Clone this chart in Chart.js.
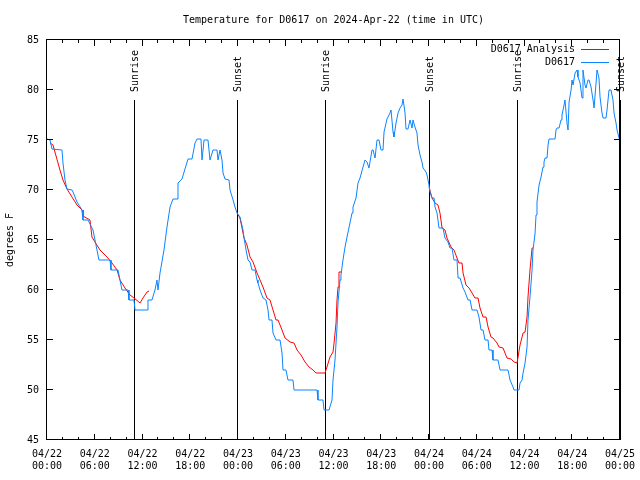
<!DOCTYPE html>
<html>
<head>
<meta charset="utf-8">
<title>Temperature for D0617</title>
<script src="https://cdn.jsdelivr.net/npm/chart.js@4/dist/chart.umd.min.js"></script>
<style>
  html, body { margin: 0; padding: 0; background: #fff; }
  #wrap { width: 640px; height: 480px; }
</style>
</head>
<body>
<div id="wrap"><canvas id="temp-chart" width="640" height="480"></canvas></div>
<script>
// Hours since 2024-04-22 00:00 UTC
const obsHours = [
  0, 0.38, 0.63, 1.88, 2.01, 2.26, 2.51, 3.14, 3.27, 3.77, 4.40, 4.52, 5.15, 5.78, 6.03, 6.53,
  7.92, 8.04, 8.92, 9.42, 10.18, 10.30, 10.93, 11.06, 12.57, 12.69, 13.19, 13.57, 13.82, 13.95,
  14.20, 14.70, 15.08, 15.46, 15.83, 16.34, 16.46, 16.96, 17.34, 17.72, 18.22, 18.60, 18.85,
  19.35, 19.48, 19.60, 19.73, 20.23, 20.48, 20.86, 21.36, 21.49, 21.74, 21.99, 22.12, 22.37,
  22.87, 23.00, 23.38, 23.62, 23.88, 24.25, 24.63, 24.76, 25.01, 25.26, 25.51, 25.76, 26.14,
  26.39, 26.51, 26.77, 27.14, 27.52, 27.77, 27.90, 28.27, 28.40, 28.78, 29.28, 29.53, 29.66,
  30.03, 30.28, 30.91, 31.04, 33.93, 34.05, 34.68, 34.81, 35.44, 35.81, 35.94, 36.19, 36.44,
  36.57, 36.82, 36.94, 37.19, 37.45, 37.70, 38.07, 38.33, 38.45, 38.83, 39.08, 39.33, 39.71,
  39.96, 40.21, 40.46, 40.84, 40.97, 41.22, 41.47, 41.72, 41.97, 42.22, 42.35, 42.72, 43.10,
  43.23, 43.48, 43.60, 43.86, 44.11, 44.36, 44.61, 44.74, 44.99, 45.11, 45.36, 45.62, 45.87,
  45.99, 46.24, 46.49, 46.62, 46.87, 47.12, 47.25, 47.62, 47.75, 48.00, 48.13, 48.38, 48.63,
  48.76, 49.01, 49.26, 49.76, 50.01, 50.39, 50.64, 50.89, 51.14, 51.52, 51.65, 51.90, 52.28,
  52.53, 52.90, 53.16, 53.41, 54.03, 54.28, 54.54, 54.79, 55.04, 55.42, 55.54, 55.92, 56.04,
  56.67, 56.93, 57.93, 58.06, 58.18, 58.56, 58.69, 59.31, 59.44, 59.69, 59.82, 60.07, 60.32,
  60.44, 60.69, 60.95, 61.07, 61.32, 61.45, 61.57, 61.83, 62.08, 62.33, 62.45, 62.58, 62.83,
  62.96, 63.08, 63.84, 63.96, 64.09, 64.34, 64.59, 64.71, 64.84, 64.97, 65.09, 65.34, 65.47,
  65.60, 65.85, 65.97, 66.10, 66.35, 66.60, 66.72, 66.98, 67.23, 67.35, 67.60, 67.73, 67.98,
  68.11, 68.36, 68.61, 68.74, 68.99, 69.11, 69.36, 69.49, 69.74, 69.87, 70.24, 70.37, 70.62,
  70.87, 71.12, 71.25, 71.50, 71.63, 71.88, 72.00
];
const obsTemps = [
  75.1, 75, 74.1, 74, 72.7, 71, 70.1, 70, 69.8, 68.8, 68, 67, 67, 66, 65, 63,
  63, 62, 62, 60, 60, 59, 59, 58, 58, 59, 59, 60, 61, 60,
  61.7, 64, 66.3, 68.3, 69.1, 69.1, 70.7, 71.1, 72.1, 73.1, 73.1, 74.7, 75.1,
  75.1, 73, 73, 75, 75, 73, 74, 74, 73, 74, 73, 71.7, 71.1,
  71, 70, 69, 68.3, 67.7, 67.3, 66, 65.2, 64, 63, 62.8, 62, 62,
  61, 60.7, 60, 59.2, 59, 58, 57, 57, 55.7, 55, 55, 53.7, 52,
  52, 51, 51, 50, 50, 49, 49, 48, 48, 49, 51, 53, 56.3,
  58.8, 61, 61.5, 63, 64.3, 65.3, 66.7, 67.7, 68.3, 69.2, 70.7, 71.2, 72.3,
  73, 72.8, 72.2, 74, 74, 73.2, 75, 75, 74, 74, 75.8, 77.1, 77.7,
  78, 75.8, 75.3, 76.7, 77.7, 78.2, 78.5, 79.1, 77.7, 76.1, 76.1, 77, 76.2,
  77, 76.3, 75.7, 74.5, 73.5, 72.8, 72.2, 71.8, 71.5, 70.5, 69.8, 69.2, 69.2,
  68.3, 67.7, 66.2, 66.2, 65.2, 64.8, 64.2, 64.2, 63, 63, 61.2, 61.2, 60.2,
  59.8, 59, 59, 58, 58, 57.3, 56, 56, 55, 55, 54, 54, 53,
  53, 52, 52, 51.5, 51, 50.3, 50, 50, 50.7, 51, 51.7, 52.7, 54.3,
  57, 59.3, 62, 64, 65.6, 67.5, 68.8, 70.5, 71.3, 72.3, 72.8, 73.2, 73.2,
  74.5, 75.1, 75.1, 76, 76.2, 76.2, 77, 77.5, 78, 78.5, 79, 76.7, 76,
  78.8, 80, 81, 80.5, 81.7, 82, 81.3, 80.7, 79.2, 82, 80.5, 80.2, 81,
  81, 80.3, 79, 78.2, 80.7, 82, 81.2, 79.3, 77.7, 77.2, 77.2, 78, 80,
  80, 79, 77.7, 76.7, 76, 75.2, 75
];
// Analysis series, null = gap between the night runs
const anaHours = [
  0.38, 0.75, 1.63, 2.01, 2.51, 3.14, 3.77, 4.40, 4.52, 5.40, 5.65, 6.03, 6.66, 7.54, 8.17,
  8.80, 9.17, 9.80, 10.43, 10.93, 11.69, 12.06, 12.57, 12.82,
  18.00,
  23.88, 24.25, 24.76, 25.13, 25.51, 25.89, 26.39, 26.77, 27.14, 27.64, 28.02, 28.40, 28.78,
  29.03, 29.53, 29.91, 30.54, 31.04, 31.42, 31.92, 32.42, 32.92, 33.43, 33.80, 34.93, 35.18,
  35.56, 35.94, 36.07, 36.32, 36.44, 36.57, 36.69, 37.07,
  42.00,
  48.00, 48.38, 48.76, 49.13, 49.38, 49.64, 50.01, 50.26, 50.77, 51.14, 51.52, 51.77, 52.15,
  52.28, 52.65, 53.03, 53.41, 53.78, 54.16, 54.41, 54.79, 55.17, 55.42, 55.79, 56.04, 56.55,
  56.80, 57.30, 57.55, 57.80, 58.31, 58.69, 59.06, 59.19, 59.44, 59.82, 60.07, 60.32, 60.44,
  60.69, 60.95, 61.07
];
const anaTemps = [
  74.7, 74.5, 72, 71, 70.1, 69.3, 68.5, 68, 67.4, 67, 65.3, 64.8, 64, 63.3, 62.7,
  62, 61, 60.2, 59.5, 59.2, 58.7, 59.2, 59.8, 59.9,
  null,
  67.7, 67.2, 65.2, 64.5, 63.3, 62.8, 61.7, 61, 60.3, 59.2, 59, 58, 57,
  57, 56, 55.2, 54.8, 54.7, 54, 53.5, 52.8, 52.3, 52, 51.7, 51.7, 52.3,
  53.3, 53.8, 54.7, 56.7, 59, 60.3, 61.8, 61.8,
  null,
  70.3, 69.2, 68.7, 68.5, 67.7, 66.2, 66, 65.2, 64.3, 64, 63.2, 62.7, 62.7,
  61.7, 60.5, 60.2, 59.7, 59.2, 59.2, 58.2, 57.3, 57.3, 56.3, 55.3, 55.2, 54.7,
  54.3, 54.2, 53.7, 53.2, 53.1, 52.8, 52.7, 53.3, 54.5, 55.7, 55.8, 57.3, 59.3,
  62, 64.2, 64.2
];
const sunriseHours = [10.97, 34.97, 59.06];
const sunsetHours = [23.84, 48.02, 71.98];
const dayLabels = ['04/22', '04/23', '04/24', '04/25'];
const timeLabels = ['00:00', '06:00', '12:00', '18:00'];
const yMin = 45, yMax = 85, yStep = 5;

const FONT = "'DejaVu Sans Mono', 'Liberation Mono', monospace";
const toPoints = (xs, ys) => xs.map((h, i) => ({ x: h, y: ys[i] }));

// Sun markers under the data
const sunMarks = {
  id: 'sunMarks',
  beforeDatasetsDraw(chart) {
    const { ctx, chartArea: a, scales: { x } } = chart;
    const marks = [
      ...sunriseHours.map(h => [h, 'Sunrise']),
      ...sunsetHours.map(h => [h, 'Sunset']),
    ];
    ctx.save();
    ctx.strokeStyle = '#000';
    ctx.fillStyle = '#000';
    ctx.lineWidth = 1;
    ctx.font = '10px ' + FONT;
    ctx.textAlign = 'left';
    ctx.textBaseline = 'middle';
    marks.forEach(([h, label]) => {
      const px = Math.round(x.getPixelForValue(h)) + 0.5;
      ctx.beginPath();
      ctx.moveTo(px, a.top + 60);
      ctx.lineTo(px, a.bottom);
      ctx.stroke();
      ctx.save();
      ctx.translate(px + 1, a.top + 52);
      ctx.rotate(-Math.PI / 2);
      ctx.fillText(label, 0, 0);
      ctx.restore();
    });
    ctx.restore();
  },
};

// gnuplot-style frame, inward ticks, title and key
const decor = {
  id: 'decor',
  afterDraw(chart) {
    const { ctx, chartArea: a, scales: { x, y } } = chart;
    ctx.save();
    ctx.strokeStyle = '#000';
    ctx.lineWidth = 1;
    ctx.strokeRect(a.left - 0.5, a.top - 0.5, a.right - a.left, a.bottom - a.top);

    ctx.beginPath();
    for (let h = 0; h <= 72; h += 2) {
      const px = Math.round(x.getPixelForValue(h)) - 0.5;
      const len = h % 6 === 0 ? 6 : 3;
      ctx.moveTo(px, a.bottom); ctx.lineTo(px, a.bottom - len);
      ctx.moveTo(px, a.top); ctx.lineTo(px, a.top + len);
    }
    for (let v = yMin; v <= yMax; v += yStep) {
      const py = Math.round(y.getPixelForValue(v)) - 0.5;
      ctx.moveTo(a.left, py); ctx.lineTo(a.left + 6, py);
      ctx.moveTo(a.right, py); ctx.lineTo(a.right - 6, py);
    }
    ctx.stroke();

    ctx.fillStyle = '#000';
    ctx.font = '10px ' + FONT;
    ctx.textAlign = 'center';
    ctx.textBaseline = 'middle';
    ctx.fillText('Temperature for D0617 on 2024-Apr-22 (time in UTC)', (a.left + a.right) / 2, 20);

    // key, top right
    ctx.textAlign = 'right';
    chart.data.datasets.forEach((ds, i) => {
      const ly = a.top + 9.5 + i * 13;
      ctx.fillText(ds.label, a.right - 45, ly);
      ctx.strokeStyle = ds.borderColor;
      ctx.beginPath();
      ctx.moveTo(a.right - 39, ly);
      ctx.lineTo(a.right - 11, ly);
      ctx.stroke();
    });
    ctx.restore();
  },
};

new Chart(document.getElementById('temp-chart'), {
  type: 'line',
  data: {
    datasets: [
      { label: 'D0617 Analysis', data: toPoints(anaHours, anaTemps), borderColor: '#ff0000', borderWidth: 1, pointRadius: 0, spanGaps: false, order: 1 },
      { label: 'D0617', data: toPoints(obsHours, obsTemps), borderColor: '#0a84ff', borderWidth: 1, pointRadius: 0, order: 0 },
    ]
  },
  options: {
    responsive: false,
    animation: false,
    parsing: false,
    layout: { padding: { top: 40, right: 20, bottom: 0, left: 0 } },
    plugins: { legend: { display: false }, title: { display: false }, tooltip: { enabled: false } },
    scales: {
      x: {
        type: 'linear', min: 0, max: 72,
        grid: { display: false, drawTicks: false },
        border: { display: false },
        afterFit: s => { s.height = 40; s.paddingLeft = 0; s.paddingRight = 0; },
        ticks: {
          stepSize: 6, autoSkip: false, maxRotation: 0, padding: 8, color: '#000',
          font: { family: FONT, size: 10, lineHeight: 1.2 },
          callback: v => v % 6 === 0 ? [dayLabels[Math.floor(v / 24)], timeLabels[(v % 24) / 6]] : '',
        },
      },
      y: {
        min: yMin, max: yMax,
        grid: { display: false, drawTicks: false },
        border: { display: false },
        afterFit: s => { s.width = 47; },
        title: { display: true, text: 'degrees F', color: '#000', font: { family: FONT, size: 10 }, padding: { top: 4, bottom: 0 } },
        ticks: { stepSize: yStep, padding: 8, color: '#000', font: { family: FONT, size: 10 } },
      },
    },
  },
  plugins: [sunMarks, decor],
});
</script>
</body>
</html>
